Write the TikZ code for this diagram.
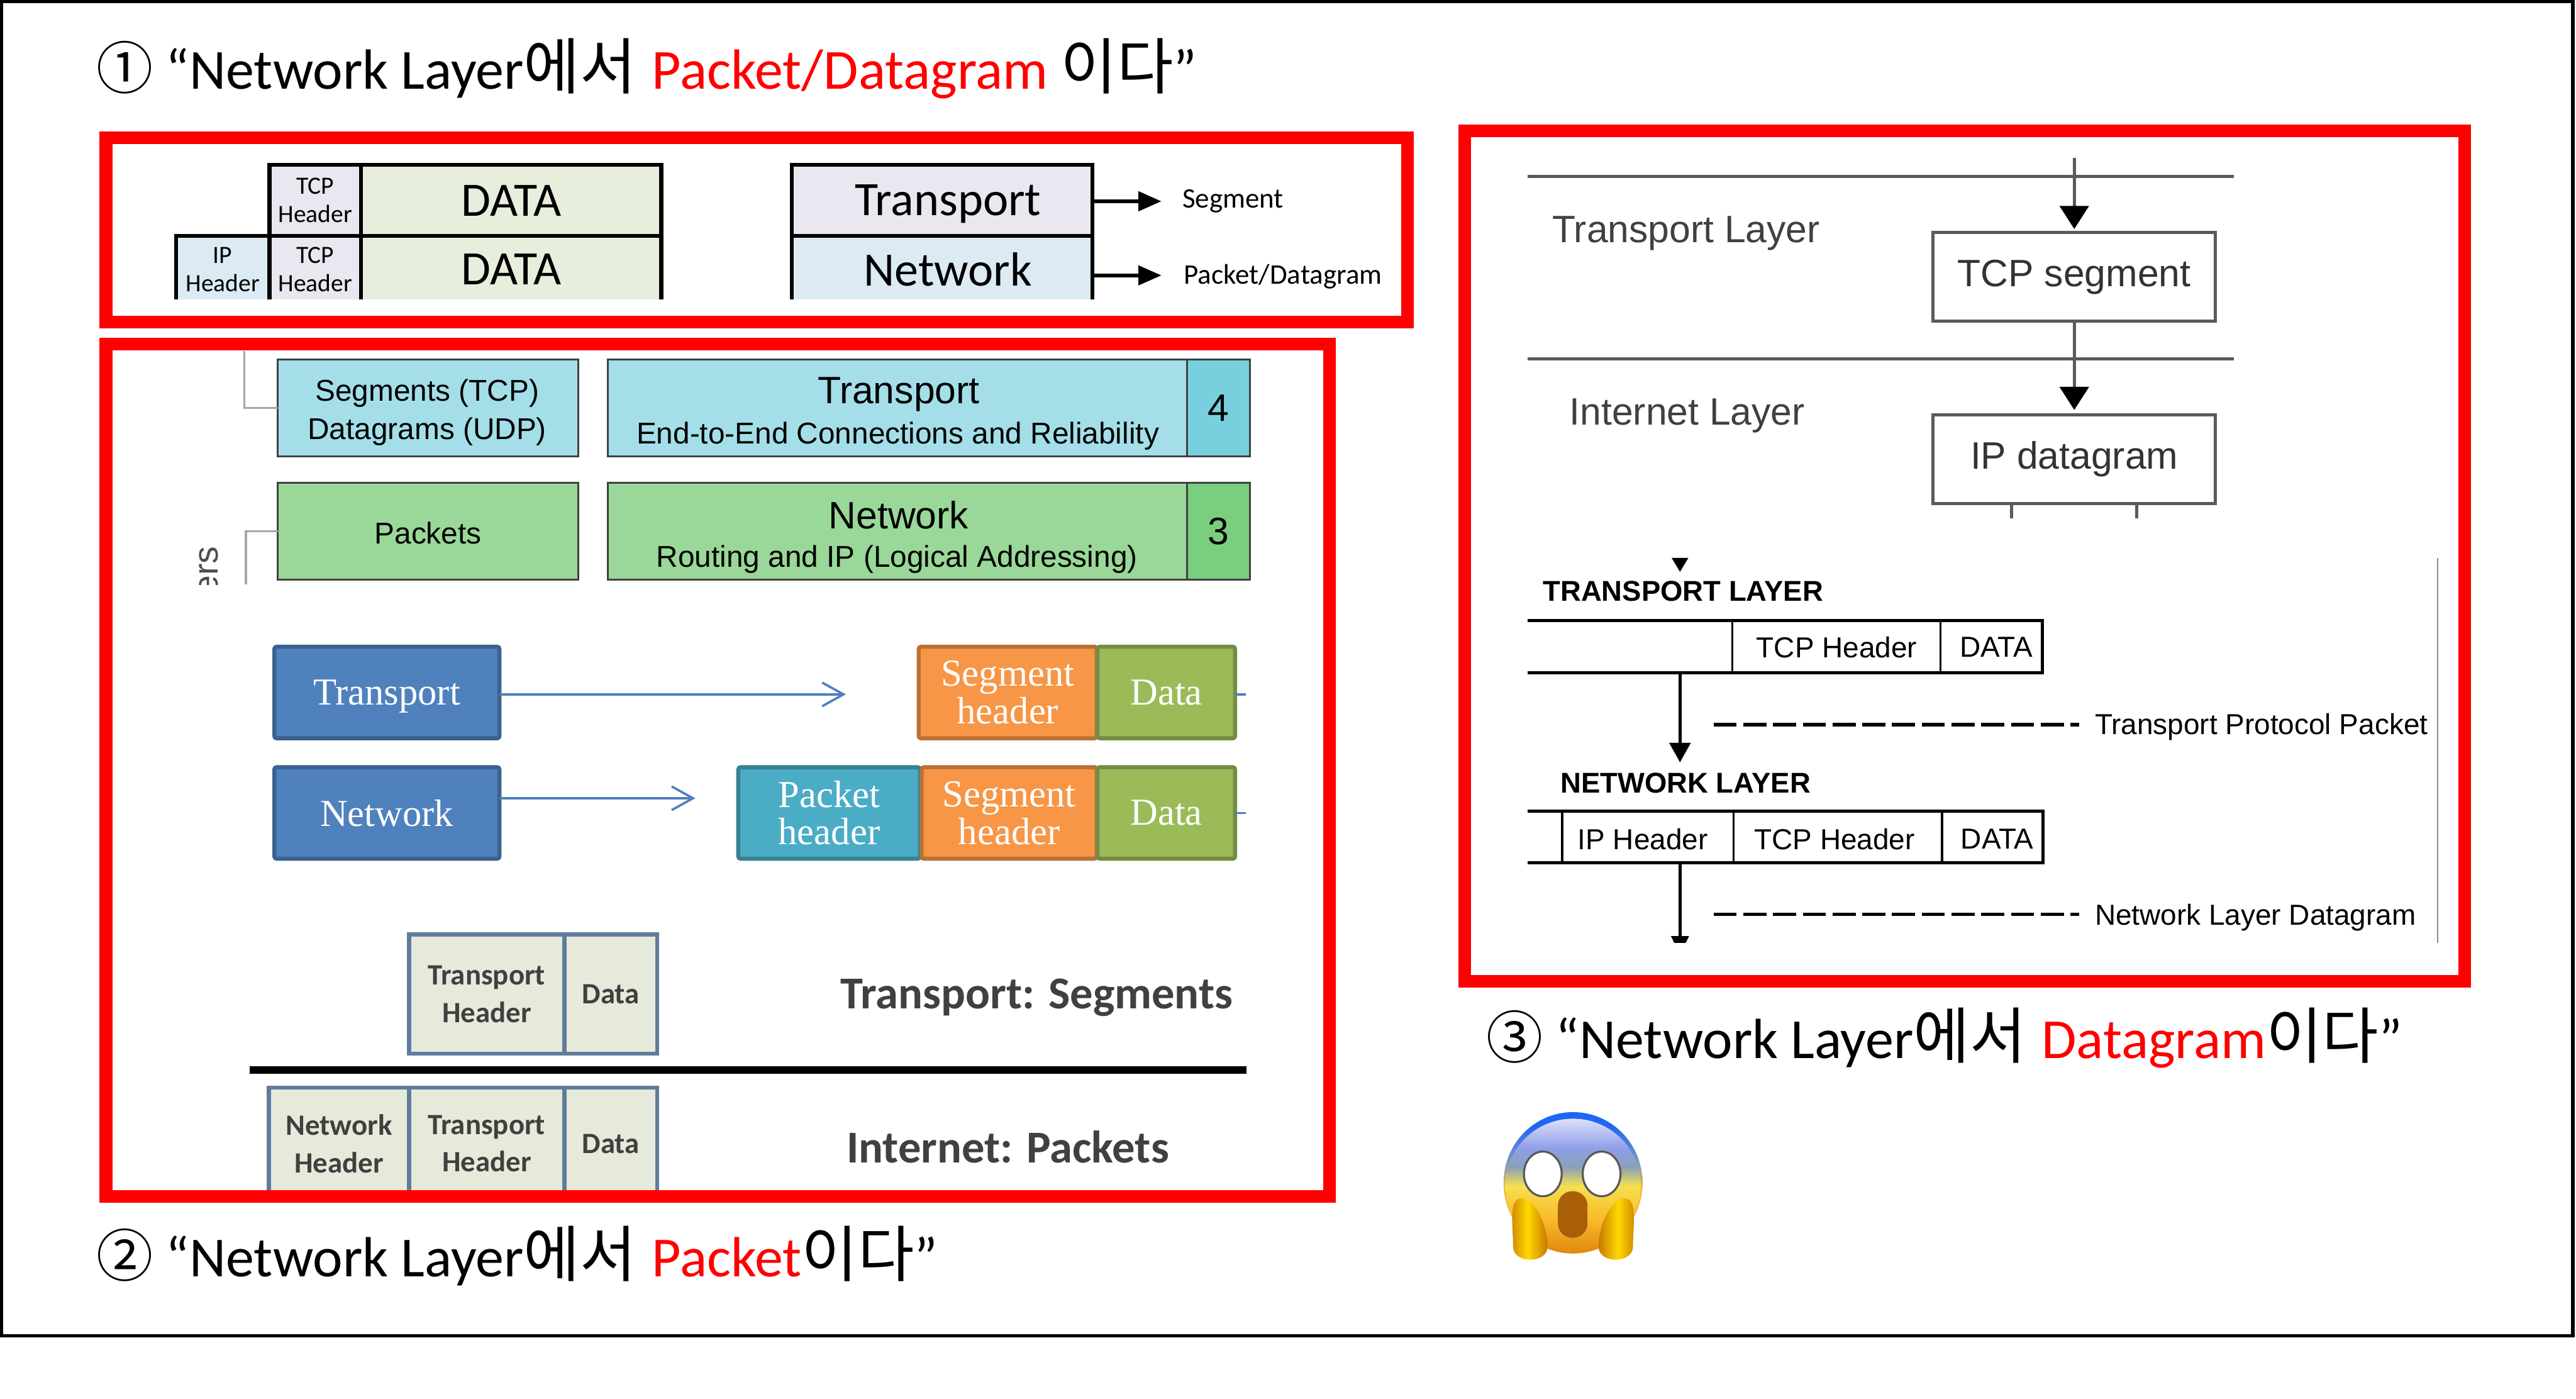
\documentclass[tikz,border=0pt]{standalone}
\usepackage{fontspec}
\setmainfont{Carlito}
\newfontfamily\arialfont{Liberation Sans}
\newfontfamily\timesfont{Liberation Serif}
\newfontfamily\krfont[Scale=1.08]{Noto Sans CJK KR}
\newfontfamily\circfont{Noto Sans CJK KR}
\usetikzlibrary{arrows.meta}
\definecolor{lavcell}{HTML}{E9E7EF}
\definecolor{datacell}{HTML}{E8EEDC}
\definecolor{ipcell}{HTML}{DCEBF3}
\definecolor{cyanbox}{HTML}{A4DFE9}
\definecolor{cyannum}{HTML}{78D0DE}
\definecolor{greenbox}{HTML}{99D898}
\definecolor{greennum}{HTML}{7ACF7E}
\definecolor{bluebox}{HTML}{4F81BD}
\definecolor{orangebox}{HTML}{F79646}
\definecolor{olivebox}{HTML}{9BBB59}
\definecolor{tealbox}{HTML}{4BACC6}
\definecolor{palecell}{HTML}{E6EADB}
\definecolor{cellrim}{HTML}{5F7C9E}
\definecolor{softtext}{HTML}{404040}
\definecolor{linegray}{HTML}{5A5A5A}
\definecolor{mouthbrown}{HTML}{A85F08}
\definecolor{handedge}{HTML}{C87A00}
\definecolor{handmid}{HTML}{FFD800}
\definecolor{rimblue}{HTML}{1E66F5}
\definecolor{chinorange}{HTML}{E08810}
\definecolor{faceyellow}{HTML}{F5E050}
\definecolor{facegold}{HTML}{F8B828}
\definecolor{facegray}{HTML}{8AA0B8}
\definecolor{faceperi}{HTML}{8F9FE8}
\definecolor{facepale}{HTML}{DDE0FA}
\pgfdeclareverticalshading{faceouter}{100bp}{color(0bp)=(chinorange); color(25bp)=(chinorange);
  color(48bp)=(facegold); color(56bp)=(facegray); color(70bp)=(rimblue); color(100bp)=(rimblue)}
\pgfdeclareverticalshading{faceinner}{100bp}{color(0bp)=(chinorange); color(25bp)=(chinorange);
  color(37bp)=(facegold); color(50bp)=(faceyellow); color(57bp)=(facegray); color(64bp)=(faceperi);
  color(75bp)=(facepale); color(100bp)=(facepale)}
\tikzset{
  sized/.style 2 args={minimum width=#1*0.01cm, minimum height=#2*0.01cm, inner sep=0pt, outer sep=0pt},
  titletext/.style={anchor=base west, inner sep=0pt, font=\fontsize{9.8pt}{11pt}\selectfont},
  redframe/.style={draw=red, line width=2.2pt},
  cellline/.style={line width=0.7pt},
  cellhead/.style={align=center, font=\fontsize{4.3pt}{4.9pt}\selectfont},
  cellbig/.style={font=\fontsize{8.3pt}{10pt}\selectfont},
  cellnote/.style={anchor=west, inner sep=0pt, font=\fontsize{4.9pt}{6pt}\selectfont},
  thinbox/.style={draw=black!75, line width=0.35pt},
  bigarial/.style={inner sep=0pt, font=\arialfont\fontsize{6.6pt}{8pt}\selectfont},
  smallarial/.style={inner sep=0pt, align=center, font=\arialfont\fontsize{5.2pt}{6.5pt}\selectfont},
  graylink/.style={draw=black!35, line width=0.35pt},
  solidbox/.style={line width=0.7pt, rounded corners=0.4pt, text=white, align=center,
    font=\timesfont\fontsize{6.6pt}{6.5pt}\selectfont},
  bluelink/.style={draw=bluebox, line width=0.4pt},
  palebox/.style={draw=cellrim, fill=palecell, line width=0.7pt, text=softtext, align=center,
    font=\bfseries\fontsize{5.1pt}{6.5pt}\selectfont},
  bigcaption/.style={inner sep=0pt, text=softtext, font=\bfseries\fontsize{7.9pt}{9pt}\selectfont},
  layerline/.style={draw=linegray, line width=0.55pt},
  layerbox/.style={draw=linegray, line width=0.55pt, text=black!80, font=\arialfont\fontsize{6.6pt}{8pt}\selectfont},
  layertext/.style={inner sep=0pt, text=black!75, font=\arialfont\fontsize{6.6pt}{8pt}\selectfont},
  headlabel/.style={inner sep=0pt, font=\arialfont\bfseries\fontsize{4.95pt}{6pt}\selectfont},
  rowtext/.style={inner sep=0pt, font=\arialfont\fontsize{5pt}{6pt}\selectfont},
  rowline/.style={line width=0.6pt},
  dashline/.style={line width=0.6pt, dash pattern=on 4pt off 1.15pt},
}
\begin{document}
\begin{tikzpicture}[x=0.01cm, y=-0.01cm]
\useasboundingbox (0, 0) rectangle (1568, 851.3);
\draw[line width=0.6pt] (1, 1) rectangle (1566, 813);

% titles
\node[titletext] (titleone) at (58, 54) {{\circfont ①} “Network Layer{\krfont 에서}\kern0.5pt{} \textcolor{red}{Packet/Datagram} {\krfont 이다}”};
\node[titletext] (titletwo) at (58, 777) {{\circfont ②} “Network Layer{\krfont 에서}\kern0.5pt{} \textcolor{red}{Packet}{\krfont 이다}”};
\node[titletext] (titlethree) at (904, 644) {{\circfont ③} “Network Layer{\krfont 에서}\kern0.5pt{} \textcolor{red}{Datagram}{\krfont 이다}”};

% first panel
\node[sized={55.8}{43.2}, fill=lavcell, cellhead] (tcpa) at (191.9, 122) {TCP\\Header};
\node[sized={182.8}{43.2}, fill=datacell, cellbig] (dataa) at (311.2, 122) {DATA};
\node[sized={56.9}{38.8}, fill=ipcell] (ipb) at (135.55, 163) {};
\node[sized={55.8}{38.8}, fill=lavcell] (tcpb) at (191.9, 163) {};
\node[sized={182.8}{38.8}, fill=datacell] (datab) at (311.2, 163) {};
\node[cellhead] (iptext) at (135.55, 164) {IP\\Header};
\node[cellhead] (tcptext) at (191.9, 164) {TCP\\Header};
\node[cellbig] (datatext) at (311.2, 164) {DATA};
\draw[cellline] (ipb.south west) -- (ipb.north west) -- (datab.north east) -- (datab.south east);
\draw[cellline] (tcpb.south west) -- (tcpa.north west) -- (dataa.north east) -- (dataa.south east);
\draw[cellline] (tcpb.south east) -- (tcpa.north east);
\draw[cellline] (ipb.south east) -- (ipb.north east);

\node[sized={183}{43.2}, fill=lavcell] (transa) at (573.5, 122) {};
\node[sized={183}{38.8}, fill=ipcell] (netb) at (573.5, 163) {};
\node[cellbig] (transatext) at (577, 124) {Transport};
\node[cellbig] (netbtext) at (577, 164) {Network};
\draw[cellline] (netb.south west) -- (transa.north west) -- (transa.north east) -- (netb.south east);
\draw[cellline] (netb.north west) -- (netb.north east);
\node[cellnote] (segnote) at (719, 122.5) {Segment};
\node[cellnote] (pktnote) at (720, 168.5) {Packet/Datagram};
\coordinate (segstart) at (665, 122.5);
\coordinate (pktstart) at (665, 167.6);
\draw[cellline, -{Triangle[width=3.3pt, length=4pt]}] (segstart) -- (707, 122.5);
\draw[cellline, -{Triangle[width=3.3pt, length=4pt]}] (pktstart) -- (707, 167.6);

% second panel, boxes with numbers
\node[sized={182.9}{58.9}, fill=cyanbox, thinbox] (segs) at (260.55, 248.35) {};
\node[smallarial] (segsa) at (260, 239.5) {Segments (TCP)};
\node[smallarial] (segsb) at (260, 262.5) {Datagrams (UDP)};
\node[sized={352.6}{58.9}, fill=cyanbox, thinbox] (transc) at (546.3, 248.35) {};
\node[bigarial] (transca) at (547, 240) {Transport};
\node[smallarial] (transcb) at (546.5, 265.5) {End-to-End Connections and Reliability};
\node[sized={38.1}{58.9}, fill=cyannum, thinbox, bigarial] (numfour) at (741.65, 248.35) {4};
\node[sized={182.9}{59}, fill=greenbox, thinbox] (pkts) at (260.55, 323.4) {};
\node[smallarial] (pktstext) at (260.55, 324.5) {Packets};
\node[sized={352.6}{59}, fill=greenbox, thinbox] (netc) at (546.3, 323.4) {};
\node[bigarial] (netca) at (547, 313.5) {Network};
\node[smallarial] (netcb) at (546, 340.5) {Routing and IP (Logical Addressing)};
\node[sized={38.1}{59}, fill=greennum, thinbox, bigarial] (numthree) at (741.65, 323.4) {3};
\coordinate (linkup) at (148.6, 213.7);
\coordinate (linkdown) at (149.7, 355.8);
\draw[graylink] (linkup) |- (segs.west);
\draw[graylink] (linkdown) |- (pkts.west);
\begin{scope}
\clip (105, 326) rectangle (140, 356);
\node[rotate=90, anchor=east, inner sep=0pt, text=black!70, font=\arialfont\fontsize{6pt}{7pt}\selectfont] (layersword) at (127, 332) {ers};
\end{scope}

% second panel, blue and coloured boxes
\node[sized={137}{55.7}, fill=bluebox, draw=bluebox!75!black, solidbox, text depth=0pt] (transd) at (235.5, 421.45) {Transport};
\node[sized={137}{55.7}, fill=bluebox, draw=bluebox!75!black, solidbox] (netd) at (235.5, 494.75) {Network};
\node[sized={108.4}{55.7}, fill=orangebox, draw=orangebox!75!black, solidbox] (seghd) at (613.4, 421.45) {Segment\\header};
\node[sized={83.7}{55.7}, fill=olivebox, draw=olivebox!75!black, solidbox] (datad) at (709.95, 421.45) {Data};
\node[sized={110.6}{55.7}, fill=tealbox, draw=tealbox!75!black, solidbox] (pkthe) at (504.7, 494.75) {Packet\\header};
\node[sized={106.6}{55.7}, fill=orangebox, draw=orangebox!75!black, solidbox] (seghe) at (614.3, 494.75) {Segment\\header};
\node[sized={83.7}{55.7}, fill=olivebox, draw=olivebox!75!black, solidbox] (datae) at (709.95, 494.75) {Data};
\coordinate (transtip) at (514.9, 422.6);
\coordinate (nettip) at (423.3, 485.8);
\coordinate (stubd) at (758.2, 422.6);
\coordinate (stube) at (758.2, 494.75);
\draw[bluelink, -{Straight Barb[width=4.1pt, length=3.7pt]}] (transd.east |- transtip) -- (transtip);
\draw[bluelink, -{Straight Barb[width=4.1pt, length=3.7pt]}] (netd.east |- nettip) -- (nettip);
\draw[bluelink] (datad.east |- stubd) -- (stubd);
\draw[bluelink] (datae.east) -- (stube);

% second panel, headers
\node[sized={94.5}{72.5}, palebox] (transf) at (296.25, 605) {Transport\\Header};
\node[sized={56.6}{72.5}, palebox] (dataf) at (371.8, 605) {Data};
\node[bigcaption] (capsegs) at (631, 607) {Transport: Segments};
\coordinate (rulea) at (152, 651);
\coordinate (ruleb) at (758.7, 651);
\draw[line width=1.3pt] (rulea) -- (ruleb);
\node[sized={85.3}{68}, palebox] (netg) at (206.35, 696) {Network\\Header};
\node[sized={94.5}{68}, palebox] (transg) at (296.25, 696) {Transport\\Header};
\node[sized={56.6}{68}, palebox] (datag) at (371.8, 696) {Data};
\node[bigcaption] (cappkts) at (613.5, 698) {Internet: Packets};

% third panel, layers
\coordinate (linea) at (930, 107.4);
\coordinate (lineb) at (930, 218.3);
\coordinate (tcpin) at (1262.6, 96.2);
\draw[layerline] (linea) -- (1359.6, 107.4);
\draw[layerline] (lineb) -- (1359.6, 218.3);
\node[layertext] (translayer) at (1026.3, 142) {Transport Layer};
\node[layertext] (intlayer) at (1027, 253) {Internet Layer};
\node[sized={172}{54}, layerbox] (tcpseg) at (1262.6, 168.5) {TCP segment};
\node[sized={172}{54}, layerbox] (ipgram) at (1262.6, 279.3) {IP datagram};
\draw[layerline, -{Triangle[width=5pt, length=4pt, color=black]}, shorten >=0.6pt] (tcpin) -- (tcpseg.north);
\draw[layerline, -{Triangle[width=5pt, length=4pt, color=black]}, shorten >=0.8pt] (tcpseg.south) -- (ipgram.north);
\coordinate (ipstuba) at (1224.5, 315.6);
\coordinate (ipstubb) at (1300.5, 315.6);
\draw[layerline] (ipstuba) -- (ipstuba |- ipgram.south);
\draw[layerline] (ipstubb) -- (ipstubb |- ipgram.south);

% third panel, packet rows
\fill (1017.5, 339.5) -- (1027.7, 339.5) -- (1022.6, 348) -- cycle;
\node[headlabel] (transhead) at (1024.5, 359.9) {TRANSPORT LAYER};
\coordinate (rowa) at (930, 377.7);
\coordinate (rowb) at (930, 409.4);
\draw[rowline] (rowa) -- (1243.2, 377.7) -- (1243.2, 409.4) -- (rowb);
\draw[line width=0.4pt] (1054.5, 377.7) -- (1054.5, 409.4);
\draw[line width=0.4pt] (1181.2, 377.7) -- (1181.2, 409.4);
\node[rowtext] (tcpheada) at (1118, 394) {TCP Header};
\node[rowtext] (dataheada) at (1215, 394) {DATA};
\coordinate (transdown) at (1022.6, 409.4);
\coordinate (nettop) at (1022.6, 464);
\draw[rowline, -{Triangle[width=3.6pt, length=3.4pt]}] (transdown) -- (nettop);
\coordinate (dasha) at (1043, 441);
\draw[dashline] (dasha) -- (1265.7, 441);
\node[rowtext, anchor=west] (transnote) at (1274.5, 442.5) {Transport Protocol Packet};

\node[headlabel] (nethead) at (1026, 476.6) {NETWORK LAYER};
\coordinate (rowc) at (930, 493.7);
\coordinate (rowd) at (930, 525);
\draw[rowline] (rowc) -- (1243.6, 493.7) -- (1243.6, 525) -- (rowd);
\draw[line width=0.4pt] (951, 493.7) -- (951, 525);
\draw[line width=0.4pt] (1055.2, 493.7) -- (1055.2, 525);
\draw[line width=0.4pt] (1182, 493.7) -- (1182, 525);
\node[rowtext] (ipheadb) at (1000, 510.7) {IP Header};
\node[rowtext] (tcpheadb) at (1116.7, 510.7) {TCP Header};
\node[rowtext] (dataheadb) at (1215.7, 510.7) {DATA};
\coordinate (netdown) at (1022.6, 525);
\coordinate (netend) at (1022.6, 570);
\draw[rowline] (netdown) -- (netend);
\fill (1017.1, 569.7) -- (1028.1, 569.7) -- (1026.1, 573.8) -- (1019.1, 573.8) -- cycle;
\coordinate (dashb) at (1043, 556.5);
\draw[dashline] (dashb) -- (1265.7, 556.5);
\node[rowtext, anchor=west] (netnote) at (1274.5, 558.5) {Network Layer Datagram};
\coordinate (sidea) at (1483.8, 339.5);
\coordinate (sideb) at (1483.8, 573.8);
\draw[draw=black!45, line width=0.3pt] (sidea) -- (sideb);

% red frames
\draw[redframe] (64.5, 83.7) rectangle (856.8, 196);
\draw[redframe] (64.5, 209.5) rectangle (809.2, 728);
\draw[redframe] (891.5, 79.6) rectangle (1500.3, 597.3);

% face
\shade[shading=faceouter] (957.5, 719.8) ellipse [x radius=42.3, y radius=43];
\shade[shading=faceinner] (957.5, 721.8) ellipse [x radius=41.3, y radius=41];
\draw[draw=black!65, fill=white, line width=0.35pt] (939.1, 714.4) ellipse [x radius=11.5, y radius=13.6];
\draw[draw=black!65, fill=white, line width=0.35pt] (974.9, 714.4) ellipse [x radius=11.5, y radius=13.6];
\fill[fill=mouthbrown, rounded corners=2.5pt] (948.3, 724.9) rectangle (966.3, 753.3);
\shade[left color=handedge, right color=handedge, middle color=handmid]
  (926, 729.3) .. controls (934, 729.3) and (942, 745) .. (942, 758.6)
  .. controls (942, 769.3) and (921, 769.3) .. (921, 758.6)
  .. controls (921, 746) and (918, 729.3) .. (926, 729.3);
\shade[left color=handedge, right color=handedge, middle color=handmid]
  (989, 729.3) .. controls (981, 729.3) and (973, 745) .. (973, 758.6)
  .. controls (973, 769.3) and (994, 769.3) .. (994, 758.6)
  .. controls (994, 746) and (997, 729.3) .. (989, 729.3);
\end{tikzpicture}
\end{document}
